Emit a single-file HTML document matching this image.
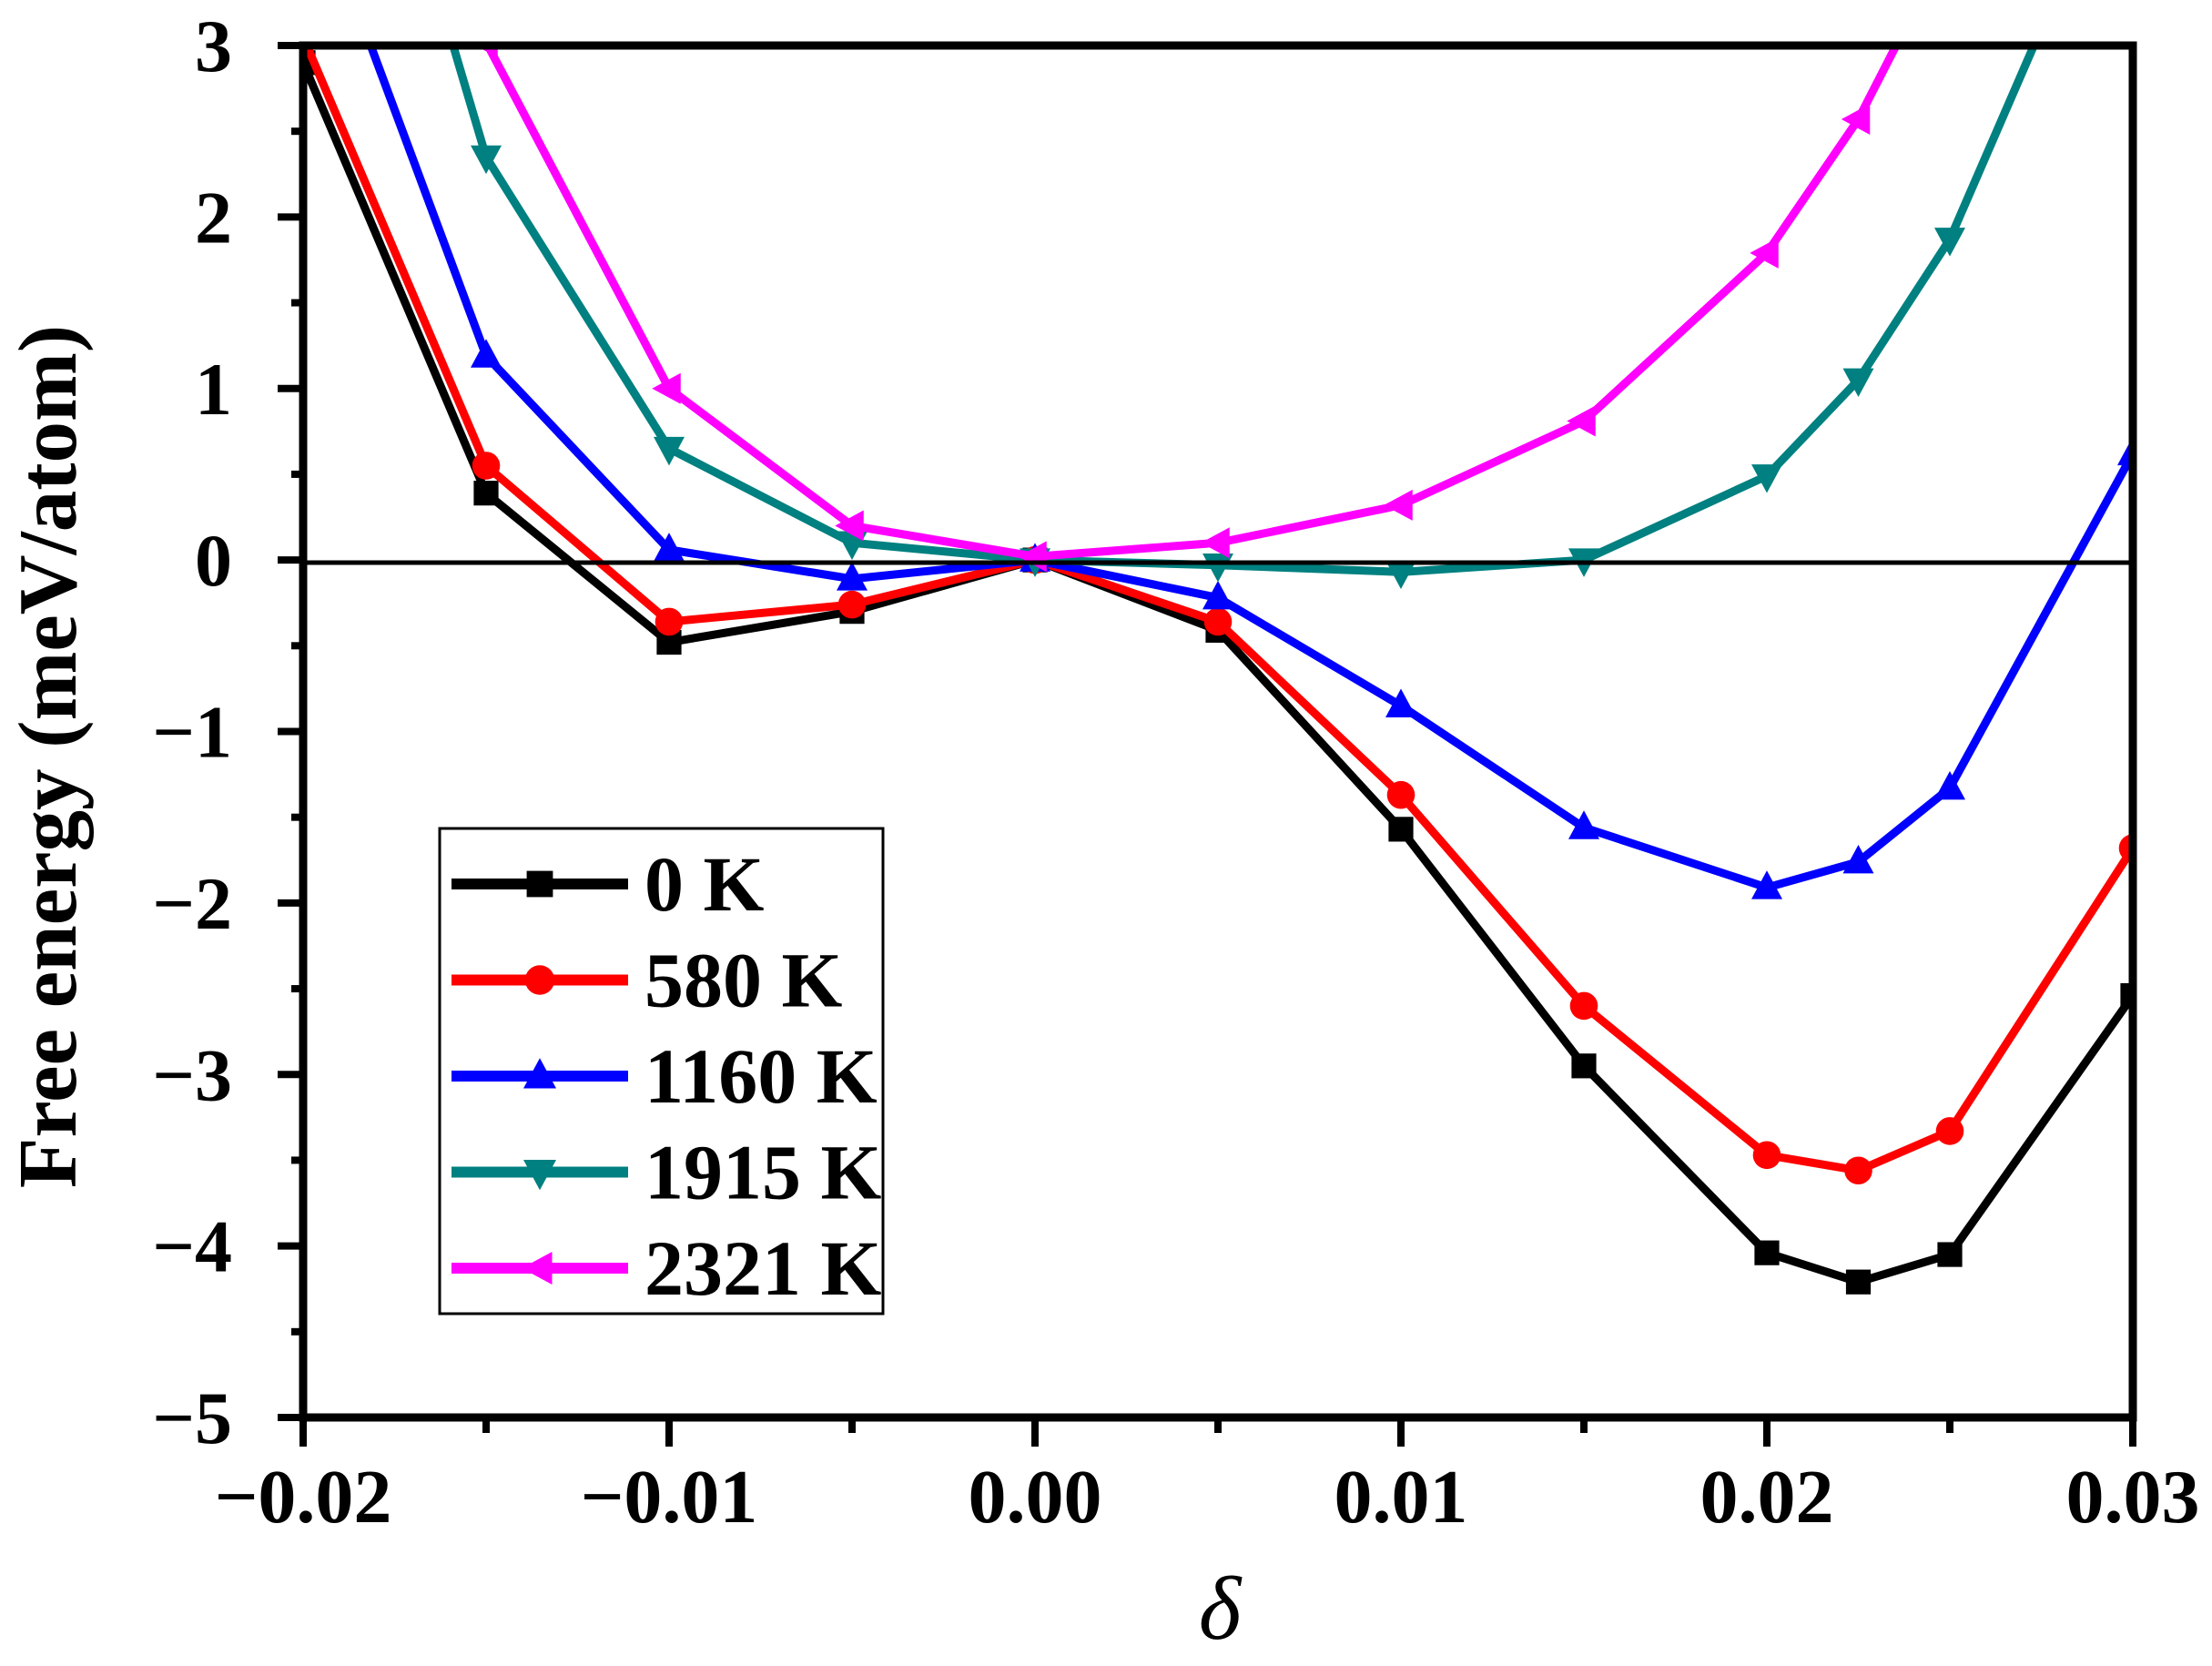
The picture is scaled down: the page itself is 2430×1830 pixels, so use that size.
<!DOCTYPE html>
<html><head><meta charset="utf-8"><style>
html,body{margin:0;padding:0;background:#fff;}
svg{display:block;font-family:"Liberation Serif",serif;font-weight:bold;}
</style></head><body>
<svg id="chart" width="2430" height="1830" viewBox="0 0 2430 1830" xmlns="http://www.w3.org/2000/svg">
<defs><clipPath id="clip"><rect x="333" y="50" width="2010" height="1507"/></clipPath></defs>
<g id="series" clip-path="url(#clip)"></g>
<line x1="333" x2="2343" y1="618" y2="618" stroke="#000" stroke-width="5"/>
<g id="axes"></g>
<text transform="translate(83,831) rotate(-90)" text-anchor="middle" font-size="91">Free energy (meV/atom)</text>
<text x="1340" y="1800" text-anchor="middle" font-size="100" font-style="italic" font-weight="normal">δ</text>
<g id="legend"></g>
</svg>
<script>
const xValues=[-0.02,-0.015,-0.01,-0.005,0,0.005,0.01,0.015,0.02,0.0225,0.025,0.03];
const seriesNames=["0 K","580 K","1160 K","1915 K","2321 K"];
const seriesColors=["#000000","#ff0000","#0000ff","#008080","#ff00ff"];
const seriesMarkers=["square","circle","up","down","left"];
const s0K=[2.9,0.39,-0.48,-0.30,0,-0.41,-1.57,-2.95,-4.04,-4.21,-4.05,-2.54];
const s580K=[3.05,0.55,-0.36,-0.26,0,-0.36,-1.37,-2.6,-3.47,-3.56,-3.33,-1.68];
const s1160K=[4.06,1.19,0.06,-0.11,0,-0.22,-0.85,-1.56,-1.91,-1.76,-1.33,0.62];
const s1915K=[5.96,2.35,0.65,0.1,0,-0.03,-0.07,0.0,0.49,1.05,1.87,4.33];
const s2321K=[6.0,3.02,1.0,0.2,0.02,0.1,0.32,0.81,1.79,2.57,3.61,5.5];
const allSeries=[s0K,s580K,s1160K,s1915K,s2321K];
const xTicks=[-0.02,-0.01,0,0.01,0.02,0.03];
const xTickLabels=["\u22120.02","\u22120.01","0.00","0.01","0.02","0.03"];
const yTicks=[3,2,1,0,-1,-2,-3,-4,-5];
const yTickLabels=["3","2","1","0","\u22121","\u22122","\u22123","\u22124","\u22125"];

const L=333,R=2343,T=50,B=1557;
const xMin=-0.02,xMax=0.03,yMin=-5,yMax=3;
function X(v){return L+(v-xMin)/(xMax-xMin)*(R-L);}
function Y(v){return B-(v-yMin)/(yMax-yMin)*(B-T);}
const NS="http://www.w3.org/2000/svg";
function mk(tag,attrs,parent){const e=document.createElementNS(NS,tag);for(const k in attrs)e.setAttribute(k,attrs[k]);parent.appendChild(e);return e;}
function marker(type,cx,cy,r,color,parent){
  let e;
  if(type==="square")e=mk("rect",{x:cx-r*0.8,y:cy-r*0.8,width:r*1.6,height:r*1.6,fill:color},parent);
  else if(type==="circle")e=mk("circle",{cx:cx,cy:cy,r:r*0.9,fill:color},parent);
  else{
    let p;
    if(type==="up")p=[[cx,cy-r*1.1],[cx-r,cy+r*0.75],[cx+r,cy+r*0.75]];
    else if(type==="down")p=[[cx,cy+r*1.1],[cx-r,cy-r*0.75],[cx+r,cy-r*0.75]];
    else p=[[cx-r*1.1,cy],[cx+r*0.75,cy-r],[cx+r*0.75,cy+r]];
    e=mk("polygon",{points:p.map(q=>q.join(",")).join(" "),fill:color},parent);
  }
  return e;
}
const sg=document.getElementById("series");
allSeries.forEach((vals,i)=>{
  const g=mk("g",{},sg);
  
  
  const line=mk("polyline",{points:vals.map((v,j)=>X(xValues[j])+","+Y(v)).join(" "),fill:"none",stroke:seriesColors[i],"stroke-width":9,"stroke-linejoin":"miter"},g);
  
  
  vals.forEach((v,j)=>{
    const m=marker(seriesMarkers[i],X(xValues[j]),Y(v),17,seriesColors[i],g);
    
    
  });
});
const ax=document.getElementById("axes");
const frame=mk("rect",{x:L,y:T,width:R-L,height:B-T,fill:"none",stroke:"#000","stroke-width":9},ax);


for(let k=0;k<=10;k++){
  const v=xMin+k*0.005,x=X(v),major=k%2===0;
  const t=mk("line",{x1:x,x2:x,y1:B,y2:B+(major?32:17),stroke:"#000","stroke-width":8},ax);
  
  
}
xTicks.forEach((v,i)=>{
  const t=mk("text",{x:X(v),y:1672,"text-anchor":"middle","font-size":84},ax);
  t.textContent=xTickLabels[i];
  
  
});
for(let k=0;k<=16;k++){
  const v=yMin+k*0.5,y=Y(v),major=k%2===0;
  const t=mk("line",{x1:L-(major?28:13),x2:L,y1:y,y2:y,stroke:"#000","stroke-width":8},ax);
  
  
}
yTicks.forEach((v,i)=>{
  const t=mk("text",{x:255,y:Y(v)+28,"text-anchor":"end","font-size":82},ax);
  t.textContent=yTickLabels[i];
  
  
});
const lg=document.getElementById("legend");
const box=mk("rect",{x:483,y:910,width:487,height:533,fill:"#fff",stroke:"#000","stroke-width":3},lg);


seriesNames.forEach((n,i)=>{
  const y=971+i*105.5;
  const g=mk("g",{},lg);
  
  
  mk("line",{x1:496,x2:690,y1:y,y2:y,stroke:seriesColors[i],"stroke-width":12},g);
  marker(seriesMarkers[i],593,y,18,seriesColors[i],g);
  const t=mk("text",{x:708,y:y+29,"font-size":86},g);
  t.textContent=n;
});
</script>
</body></html>
